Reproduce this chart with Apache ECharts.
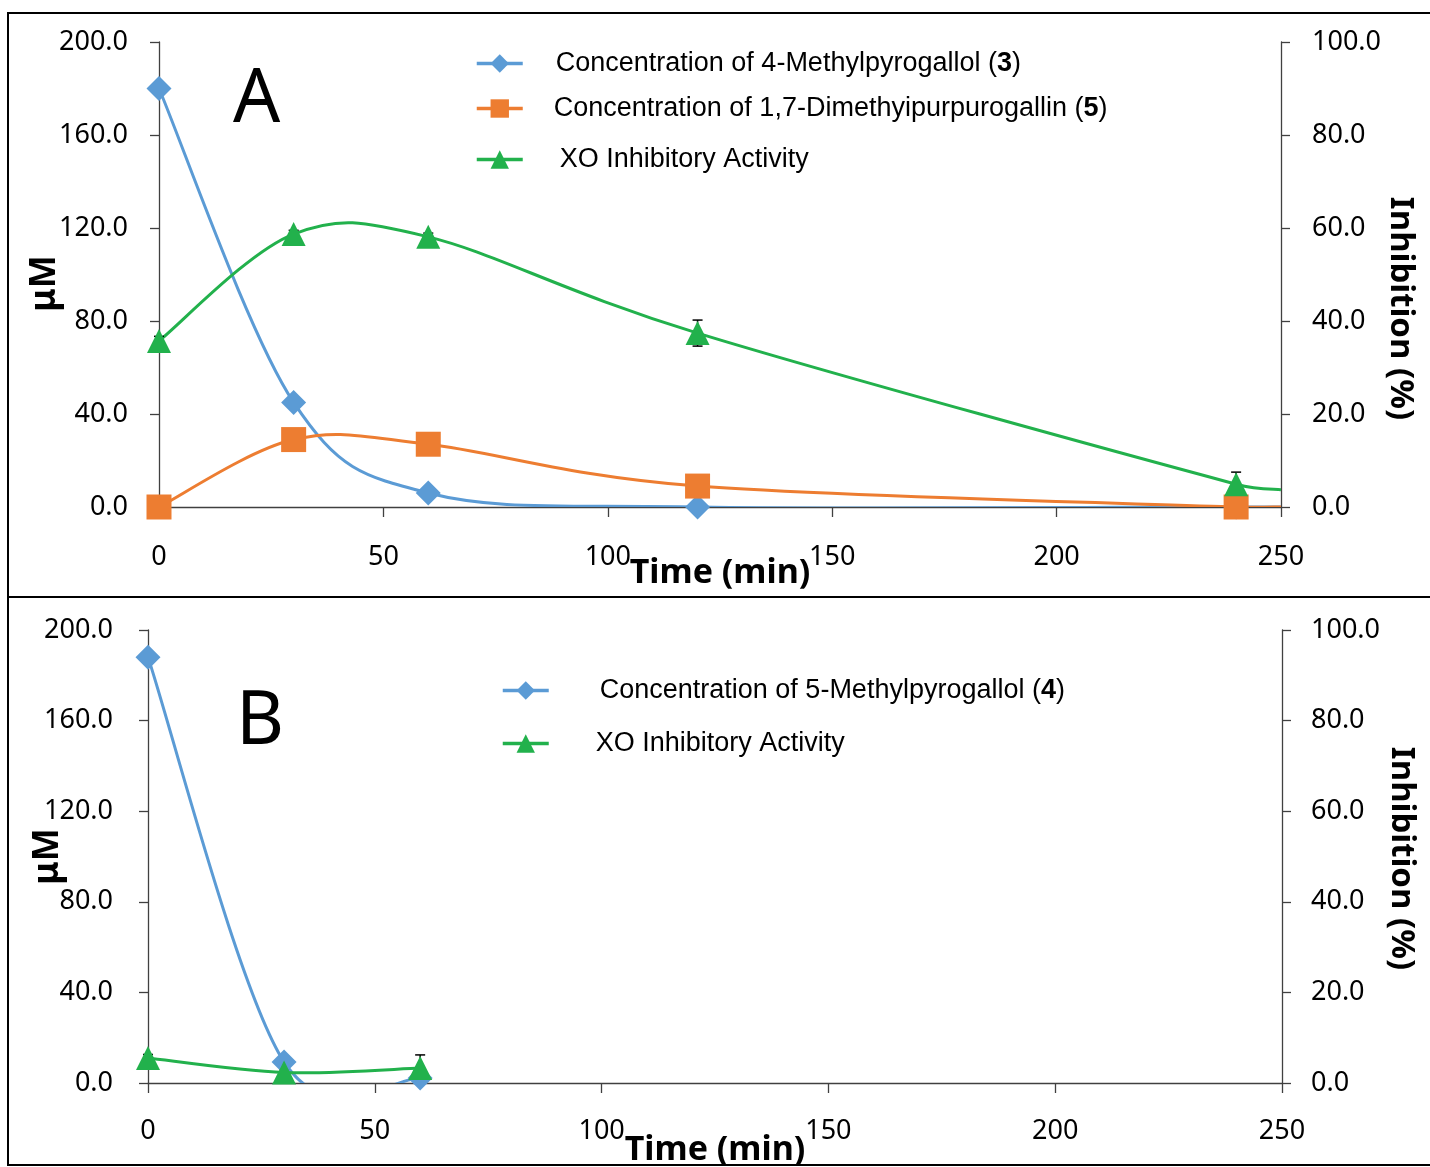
<!DOCTYPE html>
<html>
<head>
<meta charset="utf-8">
<script src="https://cdn.jsdelivr.net/npm/echarts@6/dist/echarts.min.js"></script>
<style>
  html, body { margin: 0; padding: 0; background: #fff; }
  #chart { width: 1430px; height: 1167px; }
</style>
</head>
<body>
<div id="chart"></div>
<script>
// panel A
const timeA = [0, 30, 60, 120, 240, 250]
const methylPyrogallol3 = [180, 45, 6, 0, 0, 0]
const dimethylPurpurogallin5 = [0, 29, 27, 9, 0, 0]
const xoInhibitionA = [35.7, 58.7, 58.1, 37.4, 4.9, 3.7]
const xoErrorA = [1.0, 0.8, 0.8, 2.8, 2.6]

// panel B
const timeB = [0, 30, 60]
const methylPyrogallol4 = [188, 9.3, 2.2]
const xoInhibitionB = [5.5, 2.3, 3.3]
const xoErrorB = [0.8, 0.8, 2.9]

const timeTicks = [0, 50, 100, 150, 200, 250]

const BLUE = '#5B9BD5'
const ORANGE = '#ED7D31'
const GREEN = '#22B14C'
const FONT = 'Noto Sans'

// the last time point (250) is only the edge of the plotted curve, no marker
const toPoints = (times, values) => times.map((t, i) => {
  const item = { value: [t, values[i]] }
  if (t > 240) item.symbol = 'none'
  return item
})

const toErrors = (times, values, errors) => errors.map((e, i) => [times[i], values[i], e])

const renderErrorBar = (params, api) => {
  const x = api.value(0)
  const y = api.value(1)
  const e = api.value(2)
  const hi = api.coord([x, y + e])
  const lo = api.coord([x, y - e])
  const cap = 5
  const style = { stroke: '#000', lineWidth: 1.5 }
  return {
    type: 'group',
    children: [
      { type: 'line', shape: { x1: hi[0], y1: hi[1], x2: lo[0], y2: lo[1] }, style },
      { type: 'line', shape: { x1: hi[0] - cap, y1: hi[1], x2: hi[0] + cap, y2: hi[1] }, style },
      { type: 'line', shape: { x1: lo[0] - cap, y1: lo[1], x2: lo[0] + cap, y2: lo[1] }, style }
    ]
  }
}

// tangent offset for a control point, kept within half the segment's x span
const handle = (a, b, segDx) => {
  let dx = (b[0] - a[0]) / 6
  let dy = (b[1] - a[1]) / 6
  const lim = Math.abs(segDx) / 2
  if (Math.abs(dx) > lim && dx !== 0) {
    const k = lim / Math.abs(dx)
    dx *= k
    dy *= k
  }
  return [dx, dy]
}

// spreadsheet-style smoothed line (catmull-rom / bezier, allowed to overshoot)
const smoothCurve = (times, values, color, xi, yi) => ({
  type: 'custom',
  xAxisIndex: xi,
  yAxisIndex: yi,
  clip: true,
  silent: true,
  z: 2,
  data: times.map((t, i) => [t, values[i]]),
  encode: { x: 0, y: 1 },
  renderItem: (params, api) => {
    const i = params.dataIndex
    const n = times.length
    if (i >= n - 1) return null
    const pt = k => {
      const j = Math.max(0, Math.min(n - 1, k))
      return api.coord([times[j], values[j]])
    }
    const p0 = pt(i - 1)
    const p1 = pt(i)
    const p2 = pt(i + 1)
    const p3 = pt(i + 2)
    const segDx = p2[0] - p1[0]
    const h1 = handle(p0, p2, segDx)
    const h2 = handle(p1, p3, segDx)
    return {
      type: 'bezierCurve',
      shape: {
        x1: p1[0], y1: p1[1],
        x2: p2[0], y2: p2[1],
        cpx1: p1[0] + h1[0],
        cpy1: p1[1] + h1[1],
        cpx2: p2[0] - h2[0],
        cpy2: p2[1] - h2[1]
      },
      style: { stroke: color, lineWidth: 3, fill: null }
    }
  }
})

const axisLine = { show: true, onZero: false, lineStyle: { color: '#404040', width: 1.3 } }
const axisTick = { show: true, inside: false, length: 9, lineStyle: { color: '#404040', width: 1.3 } }
const tickLabel = { color: '#000', fontFamily: FONT, fontSize: 27 }

const makeXAxis = (gridIndex, margin, gap) => ({
  type: 'value',
  gridIndex,
  min: timeTicks[0],
  max: timeTicks[timeTicks.length - 1],
  interval: 50,
  axisLine,
  axisTick: { ...axisTick, length: 10 },
  splitLine: { show: false },
  axisLabel: { ...tickLabel, margin },
  name: 'Time (min)',
  nameLocation: 'middle',
  nameGap: gap,
  nameMoveOverlap: false,
  nameTextStyle: { color: '#000', fontFamily: FONT, fontSize: 34, fontWeight: 'bold', verticalAlign: 'middle' }
})

const makeLeftAxis = (gridIndex, margin, gap, padding) => ({
  type: 'value',
  gridIndex,
  min: 0,
  max: 200,
  interval: 40,
  position: 'left',
  axisLine,
  axisTick,
  splitLine: { show: false },
  axisLabel: { ...tickLabel, margin, formatter: v => v.toFixed(1) },
  name: 'μM',
  nameLocation: 'middle',
  nameGap: gap,
  nameRotate: 90,
  nameMoveOverlap: false,
  nameTextStyle: { color: '#000', fontFamily: FONT, fontSize: 35, fontWeight: 'bold', verticalAlign: 'middle', padding }
})

const makeRightAxis = (gridIndex, margin, gap, padding) => ({
  type: 'value',
  gridIndex,
  min: 0,
  max: 100,
  interval: 20,
  position: 'right',
  axisLine,
  axisTick,
  splitLine: { show: false },
  axisLabel: { ...tickLabel, margin, formatter: v => v.toFixed(1) },
  name: 'Inhibition (%)',
  nameLocation: 'middle',
  nameGap: gap,
  nameRotate: -90,
  nameMoveOverlap: false,
  nameTextStyle: { color: '#000', fontFamily: FONT, fontSize: 33, fontWeight: 'bold', verticalAlign: 'middle', padding }
})

// markers only; the visible line is drawn by smoothCurve
const markerSeries = (name, xi, yi, points, color, symbol, size) => ({
  name,
  type: 'line',
  xAxisIndex: xi,
  yAxisIndex: yi,
  data: points,
  symbol,
  symbolSize: size,
  lineStyle: { color, width: 3, opacity: 0 },
  itemStyle: { color },
  z: 4
})

const legendText = {
  color: '#000',
  fontFamily: 'Liberation Sans',
  fontSize: 27,
  rich: {
    t: { fontFamily: 'Liberation Sans', fontSize: 27, color: '#000' },
    b: { fontFamily: 'Liberation Sans', fontSize: 27, color: '#000', fontWeight: 'bold' }
  }
}

const legendLabel = name => {
  const m = name.match(/^(.*\()(\d)\)$/)
  if (!m) return `{t|${name.trim()}}`
  return `{t|${m[1]}}{b|${m[2]}}{t|)}`
}

const makeLegend = (name, left, top, gap) => ({
  data: [name],
  left,
  top,
  padding: 0,
  itemWidth: 46,
  itemHeight: 23,
  formatter: legendLabel,
  lineStyle: { opacity: 1, width: 3.5 },
  textStyle: { ...legendText, padding: [0, 0, 0, gap] }
})

const NAME_3 = 'Concentration of 4-Methylpyrogallol (3)'
const NAME_5 = 'Concentration of 1,7-Dimethyipurpurogallin (5)'
const NAME_4 = 'Concentration of 5-Methylpyrogallol (4)'
const NAME_XO = 'XO Inhibitory Activity'
const NAME_XO_B = 'XO Inhibitory Activity '

const chart = echarts.init(document.getElementById('chart'), null, { renderer: 'canvas' })

chart.setOption({
  backgroundColor: '#fff',
  animation: false,
  grid: [
    { left: 159, top: 42, width: 1122, height: 465, outerBoundsMode: 'none', containLabel: false },
    { left: 148, top: 630, width: 1134, height: 453, outerBoundsMode: 'none', containLabel: false }
  ],
  xAxis: [makeXAxis(0, 37, 66), makeXAxis(1, 35, 67)],
  yAxis: [
    makeLeftAxis(0, 31, 114, [0, 18, 0, 0]),
    makeRightAxis(0, 31, 119, [0, 0, 0, 68]),
    makeLeftAxis(1, 35, 100, 0),
    makeRightAxis(1, 29, 119, [0, 0, 0, 4])
  ],
  legend: [
    makeLegend(NAME_3, 475, 50, 28),
    makeLegend(NAME_5, 475, 95, 26),
    makeLegend(NAME_XO, 475, 146, 32),
    makeLegend(NAME_4, 501, 677, 46),
    makeLegend(NAME_XO_B, 501, 730, 42)
  ],
  graphic: [
    { type: 'rect', shape: { x: 8, y: 13, width: 1440, height: 584 }, style: { fill: 'none', stroke: '#000', lineWidth: 2 }, silent: true },
    { type: 'rect', shape: { x: 8, y: 597, width: 1440, height: 568 }, style: { fill: 'none', stroke: '#000', lineWidth: 2 }, silent: true },
    { type: 'text', left: 233, top: 64, style: { text: 'A', fontFamily: FONT, fontSize: 74, fill: '#000' } },
    { type: 'text', left: 236, top: 686, style: { text: 'B', fontFamily: FONT, fontSize: 74, fill: '#000' } }
  ],
  series: [
    smoothCurve(timeA, methylPyrogallol3, BLUE, 0, 0),
    smoothCurve(timeA, dimethylPurpurogallin5, ORANGE, 0, 0),
    smoothCurve(timeA, xoInhibitionA, GREEN, 0, 1),
    {
      type: 'custom',
      xAxisIndex: 0,
      yAxisIndex: 1,
      data: toErrors(timeA, xoInhibitionA, xoErrorA),
      encode: { x: 0, y: 1 },
      renderItem: renderErrorBar,
      z: 3
    },
    markerSeries(NAME_3, 0, 0, toPoints(timeA, methylPyrogallol3), BLUE, 'diamond', 25),
    markerSeries(NAME_5, 0, 0, toPoints(timeA, dimethylPurpurogallin5), ORANGE, 'rect', 25),
    markerSeries(NAME_XO, 0, 1, toPoints(timeA, xoInhibitionA), GREEN, 'triangle', 24),

    smoothCurve(timeB, methylPyrogallol4, BLUE, 1, 2),
    smoothCurve(timeB, xoInhibitionB, GREEN, 1, 3),
    {
      type: 'custom',
      xAxisIndex: 1,
      yAxisIndex: 3,
      data: toErrors(timeB, xoInhibitionB, xoErrorB),
      encode: { x: 0, y: 1 },
      renderItem: renderErrorBar,
      z: 3
    },
    markerSeries(NAME_4, 1, 2, toPoints(timeB, methylPyrogallol4), BLUE, 'diamond', 25),
    markerSeries(NAME_XO_B, 1, 3, toPoints(timeB, xoInhibitionB), GREEN, 'triangle', 24)
  ]
})

window.addEventListener('resize', () => chart.resize())
</script>
</body>
</html>
